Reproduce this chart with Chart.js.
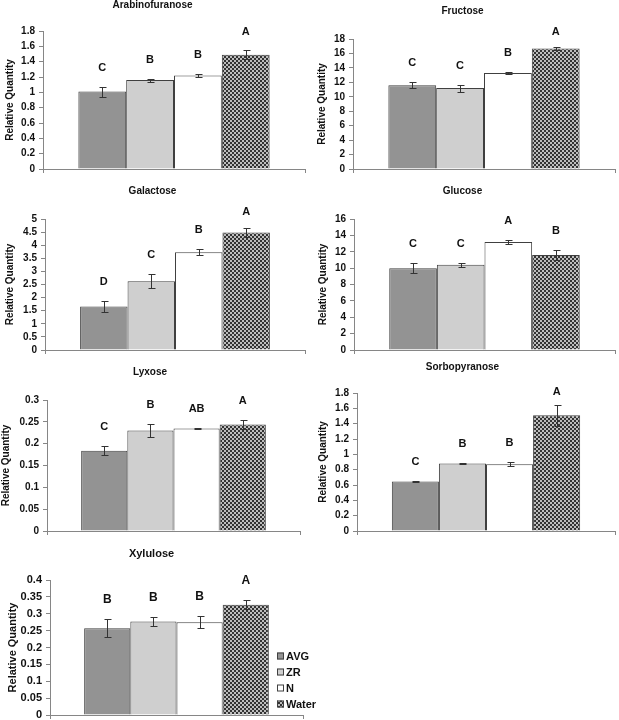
<!DOCTYPE html>
<html><head><meta charset="utf-8">
<script src="https://cdn.jsdelivr.net/npm/chart.js@4.4.1/dist/chart.umd.min.js"></script>
<style>
html,body{margin:0;padding:0;background:#fff;width:619px;height:720px;overflow:hidden;position:relative}
canvas{position:absolute;display:block}
</style></head><body>
<canvas id="c0" width="340" height="190"></canvas>
<canvas id="c1" width="340" height="190"></canvas>
<canvas id="c2" width="340" height="190"></canvas>
<canvas id="c3" width="340" height="190"></canvas>
<canvas id="c4" width="340" height="190"></canvas>
<canvas id="c5" width="340" height="190"></canvas>
<canvas id="c6" width="340" height="190"></canvas>
<script>
// ---- data ----
const sugars = ['Arabinofuranose','Fructose','Galactose','Glucose','Lyxose','Sorbopyranose','Xylulose'];
const treatments = ['AVG','ZR','N','Water'];
const avgMeans   = [1.01, 11.6, 1.66, 10.0, 0.184, 0.645, 0.257];
const zrMeans    = [1.16, 11.2, 2.62, 10.4, 0.230, 0.880, 0.277];
const nMeans     = [1.22, 13.3, 3.73, 13.2, 0.235, 0.870, 0.275];
const waterMeans = [1.49, 16.7, 4.48, 11.6, 0.244, 1.510, 0.327];
const avgErrors   = [0.065, 0.45, 0.21, 0.62, 0.010, 0.010, 0.026];
const zrErrors    = [0.020, 0.50, 0.27, 0.25, 0.014, 0.010, 0.012];
const nErrors     = [0.020, 0.20, 0.11, 0.28, 0.002, 0.025, 0.018];
const waterErrors = [0.060, 0.25, 0.18, 0.58, 0.010, 0.140, 0.013];
const avgLetters   = ['C','C','D','C','C','C','B'];
const zrLetters    = ['B','C','C','C','B','B','B'];
const nLetters     = ['B','B','B','A','AB','B','B'];
const waterLetters = ['A','A','A','B','A','A','A'];
const yMaxes = [1.8, 18, 5, 16, 0.3, 1.8, 0.4];
const ySteps = [0.2, 2, 0.5, 2, 0.05, 0.2, 0.05];
const yAxisTitle = 'Relative Quantity';

// ---- layout (pixels) ----
const panelLayout = [
  {x:0,   y:0,   left:43, top:31, bottom:169, right:305, titleY:5,   yTitleX:10, fs:10},
  {x:310, y:0,   left:43, top:39, bottom:169, right:305, titleY:11,  yTitleX:12, fs:10},
  {x:0,   y:180, left:45, top:39, bottom:170, right:305, titleY:11,  yTitleX:10, fs:10},
  {x:310, y:180, left:44, top:39, bottom:170, right:305, titleY:11,  yTitleX:13, fs:10},
  {x:0,   y:360, left:47, top:40, bottom:171, right:300, titleY:12.5,yTitleX:6,  fs:10},
  {x:310, y:360, left:47, top:33, bottom:171, right:305, titleY:7,   yTitleX:13, fs:10},
  {x:0,   y:540, left:50, top:40, bottom:175, right:303, titleY:14,  yTitleX:13, fs:11}
];
const CW = 340, CH = 190;
const FONT = "'Liberation Sans', Arial, Helvetica, sans-serif";
Chart.defaults.font.family = FONT;

// Water crosshatch pattern
function makePattern(){
  const p = document.createElement('canvas'); p.width = 4; p.height = 4;
  const c = p.getContext('2d');
  c.fillStyle = '#bdbdbd'; c.fillRect(0,0,4,4);
  c.fillStyle = '#333333'; c.fillRect(0,0,2,2); c.fillRect(2,2,2,2);
  return document.createElement('canvas').getContext('2d').createPattern(p,'repeat');
}
const waterPattern = makePattern();
const fills = ['#939393', '#cfcfcf', '#ffffff', waterPattern];
const means = [avgMeans, zrMeans, nMeans, waterMeans];
const errs = [avgErrors, zrErrors, nErrors, waterErrors];
const lets = [avgLetters, zrLetters, nLetters, waterLetters];

const errorBarPlugin = {
  id: 'errorBars',
  afterDatasetsDraw(chart){
    const {ctx} = chart; const y = chart.scales.y;
    const fs = chart.options.plugins.errorBars.letterSize;
    ctx.save();
    chart.data.datasets.forEach((ds,k)=>{
      const meta = chart.getDatasetMeta(k);
      meta.data.forEach((bar,j)=>{
        const v = ds.data[j], e = ds.errors[j];
        const yHi = Math.round(y.getPixelForValue(v+e)) + 0.5;
        const yLo = Math.round(y.getPixelForValue(v-e)) + 0.5;
        const x = Math.round(bar.x) + 0.5;
        ctx.strokeStyle = '#333'; ctx.lineWidth = 1;
        ctx.beginPath();
        ctx.moveTo(x, yHi); ctx.lineTo(x, yLo);
        ctx.moveTo(x-3, yHi); ctx.lineTo(x+4, yHi);
        ctx.moveTo(x-3, yLo); ctx.lineTo(x+4, yLo);
        ctx.stroke();
        ctx.font = 'bold ' + fs + 'px ' + FONT;
        ctx.fillStyle = '#111'; ctx.textAlign = 'center'; ctx.textBaseline = 'middle';
        ctx.fillText(ds.letters[j], bar.x, Math.max(yHi - 20, 32));
      });
    });
    ctx.restore();
  }
};

const legendPlugin = {
  id: 'sideLegend',
  afterDraw(chart){
    const opts = chart.options.plugins.sideLegend;
    if (!opts || !opts.show) return;
    const {ctx} = chart;
    ctx.save();
    ctx.font = 'bold 11px ' + FONT; ctx.textBaseline = 'middle'; ctx.textAlign = 'left';
    chart.data.datasets.forEach((ds,k)=>{
      const cy = opts.y0 + k*16;
      ctx.fillStyle = ds.backgroundColor;
      ctx.fillRect(opts.x0, cy-3.5, 7, 7);
      ctx.strokeStyle = '#404040'; ctx.lineWidth = 1;
      ctx.strokeRect(opts.x0+0.5, cy-3.5+0.5, 6, 6);
      ctx.fillStyle = '#111';
      ctx.fillText(ds.label, opts.x0 + 9, cy + 0.5);
    });
    ctx.restore();
  }
};

sugars.forEach((name, i)=>{
  const L = panelLayout[i];
  const cv = document.getElementById('c'+i);
  cv.style.left = L.x + 'px'; cv.style.top = L.y + 'px';
  const datasets = treatments.map((t,k)=>({
    label: t, data: [means[k][i]], errors: [errs[k][i]], letters: [lets[k][i]],
    backgroundColor: fills[k], borderColor: '#404040', borderWidth: 1,
    barPercentage: 1, categoryPercentage: 0.73
  }));
  new Chart(cv.getContext('2d'), {
    type: 'bar',
    data: { labels: [name], datasets },
    options: {
      responsive: false, animation: false, devicePixelRatio: 1,
      layout: { padding: { left: 0, top: 0, right: CW - L.right, bottom: 0 } },
      plugins: {
        legend: { display: false }, tooltip: { enabled: false },
        title: { display: true, text: name, color: '#111',
          font: { size: L.fs, weight: 'bold', lineHeight: 1 },
          padding: { top: L.titleY - L.fs/2, bottom: L.top - L.titleY - L.fs/2 } },
        errorBars: { letterSize: L.fs + 1 },
        sideLegend: { show: i === 6, x0: 277, y0: 116 }
      },
      scales: {
        x: {
          ticks: { display: false },
          grid: { display: true, drawOnChartArea: false, drawTicks: true, tickLength: 4, color: '#868686', offset: true },
          border: { display: true, color: '#868686' },
          afterFit(s){ s.height = CH - L.bottom; }
        },
        y: {
          min: 0, max: yMaxes[i],
          ticks: { stepSize: ySteps[i], padding: 4, color: '#111', autoSkip: false,
            font: { size: L.fs, weight: 'bold' },
            callback: v => String(+(+v).toFixed(3)) },
          grid: { display: true, drawOnChartArea: false, drawTicks: true, tickLength: 4, color: '#868686' },
          border: { display: true, color: '#868686' },
          title: { display: true, text: yAxisTitle, color: '#111',
            font: { size: L.fs, weight: 'bold', lineHeight: 1 },
            padding: { top: L.yTitleX - L.fs/2, bottom: 0 } },
          afterFit(s){ s.width = L.left; }
        }
      }
    },
    plugins: [errorBarPlugin, legendPlugin]
  });
});
</script>
</body></html>
